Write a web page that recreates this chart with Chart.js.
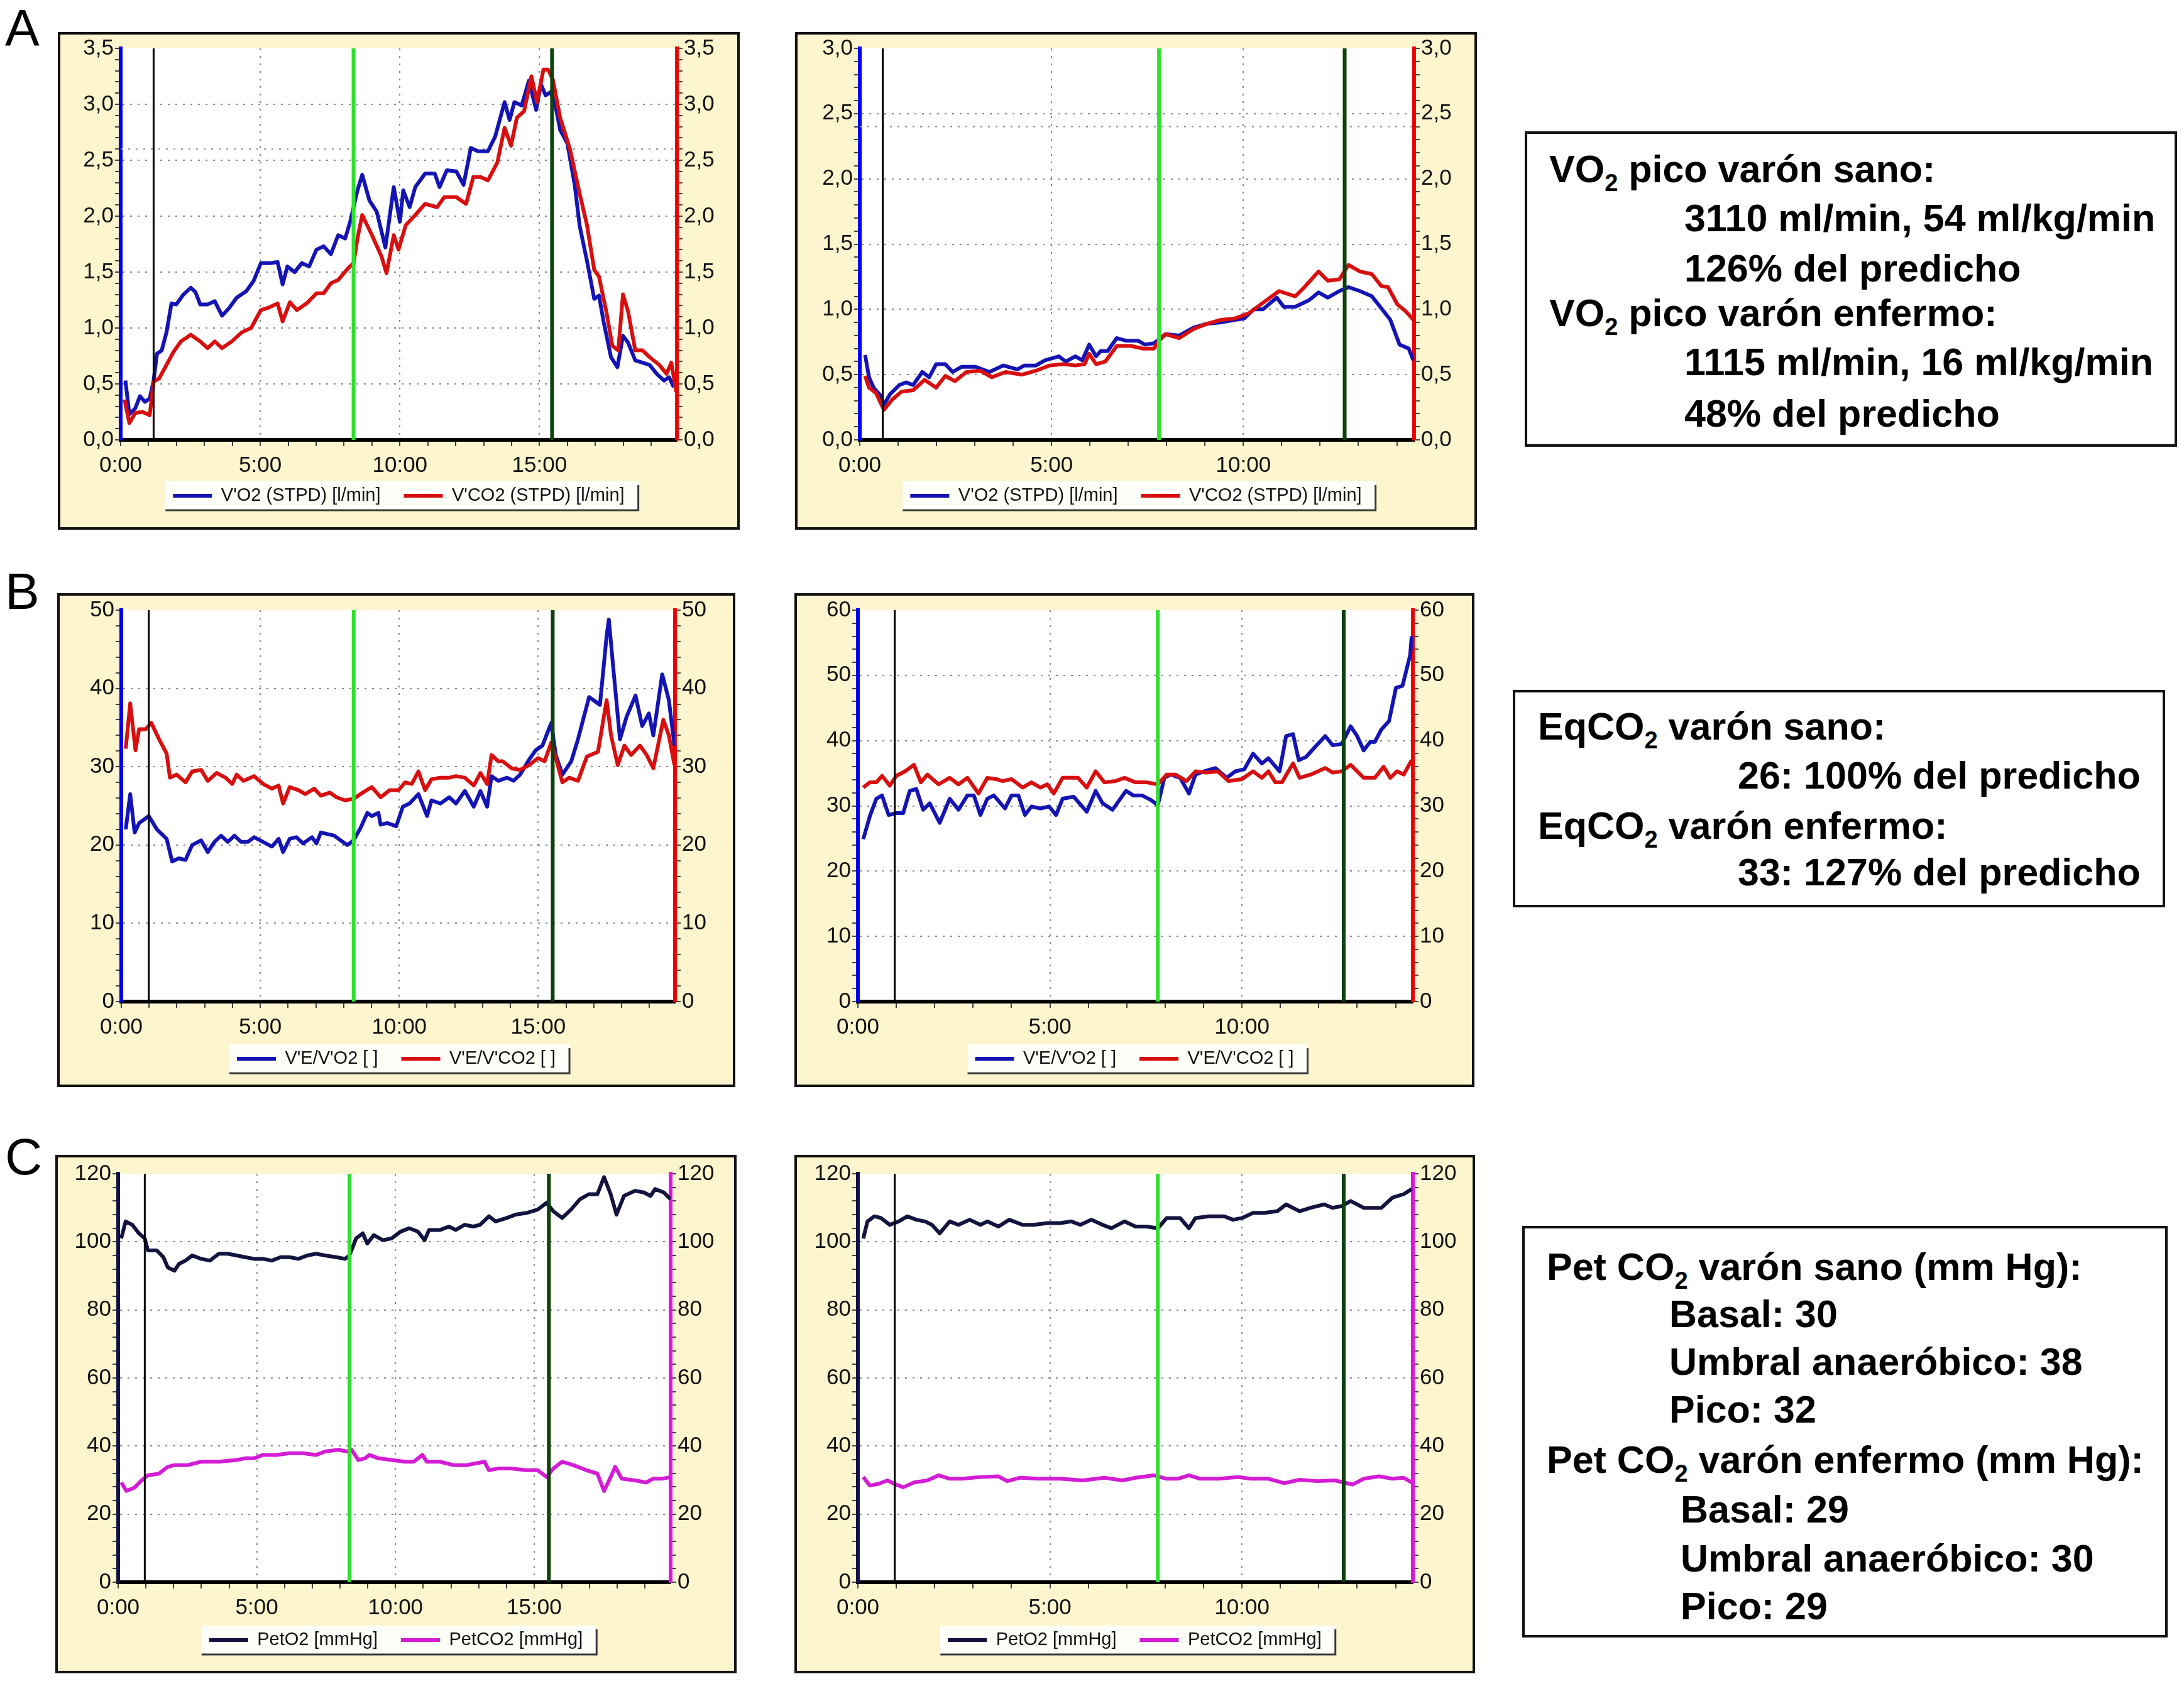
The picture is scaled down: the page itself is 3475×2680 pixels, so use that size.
<!DOCTYPE html>
<html>
<head>
<meta charset="utf-8">
<script src="https://cdn.jsdelivr.net/npm/chart.js@4.4.1/dist/chart.umd.min.js"></script>
<style>
html,body{margin:0;padding:0;background:#fff;}
#page{position:relative;width:3475px;height:2680px;overflow:hidden;background:#fff;font-family:'Liberation Sans',Arial,sans-serif;}
.letter{position:absolute;font-size:82px;line-height:82px;color:#000;}
.frame{position:absolute;box-sizing:border-box;border:4px solid #111;background:#fcf5cd;}
.frame canvas{position:absolute;left:0;top:0;}
.tbox{position:absolute;box-sizing:border-box;border:4px solid #111;background:#fff;}
.tl{position:absolute;white-space:nowrap;font-weight:bold;font-size:61px;line-height:76px;color:#000;}
.tl sub{font-size:38px;vertical-align:-14px;line-height:0;}
</style>
</head>
<body>
<div id="page">
  <div class="letter" style="left:8px;top:3px;">A</div>
  <div class="letter" style="left:8px;top:900px;">B</div>
  <div class="letter" style="left:8px;top:1800px;">C</div>

  <div class="tbox" style="left:2426px;top:209px;width:1038px;height:502px;"></div>
  <div class="tl" style="left:2465px;top:231px;">VO<sub>2</sub> pico varón sano:</div>
  <div class="tl" style="left:2680px;top:309px;">3110 ml/min, 54 ml/kg/min</div>
  <div class="tl" style="left:2680px;top:389px;">126% del predicho</div>
  <div class="tl" style="left:2465px;top:460px;">VO<sub>2</sub> pico varón enfermo:</div>
  <div class="tl" style="left:2680px;top:538px;">1115 ml/min, 16 ml/kg/min</div>
  <div class="tl" style="left:2680px;top:620px;">48% del predicho</div>

  <div class="tbox" style="left:2407px;top:1098px;width:1038px;height:346px;"></div>
  <div class="tl" style="left:2447px;top:1118px;">EqCO<sub>2</sub> varón sano:</div>
  <div class="tl" style="left:2765px;top:1196px;">26: 100% del predicho</div>
  <div class="tl" style="left:2447px;top:1276px;">EqCO<sub>2</sub> varón enfermo:</div>
  <div class="tl" style="left:2765px;top:1350px;">33: 127% del predicho</div>

  <div class="tbox" style="left:2422px;top:1951px;width:1027px;height:655px;"></div>
  <div class="tl" style="left:2461px;top:1978px;">Pet CO<sub>2</sub> varón sano (mm Hg):</div>
  <div class="tl" style="left:2656px;top:2053px;">Basal: 30</div>
  <div class="tl" style="left:2656px;top:2129px;">Umbral anaeróbico: 38</div>
  <div class="tl" style="left:2656px;top:2205px;">Pico: 32</div>
  <div class="tl" style="left:2461px;top:2285px;">Pet CO<sub>2</sub> varón enfermo (mm Hg):</div>
  <div class="tl" style="left:2674px;top:2364px;">Basal: 29</div>
  <div class="tl" style="left:2674px;top:2442px;">Umbral anaeróbico: 30</div>
  <div class="tl" style="left:2674px;top:2518px;">Pico: 29</div>
</div>
<script>
// ===================== DATA =====================
// Time in minutes; values as plotted.
// Panel A – sano (healthy)
const tVO2_sano = [0.17,0.31,0.52,0.69,0.87,1.04,1.18,1.30,1.47,1.64,1.82,1.99,2.25,2.51,2.68,2.85,3.11,3.37,3.63,3.89,4.15,4.50,4.76,5.02,5.36,5.62,5.80,5.97,6.23,6.49,6.75,7.01,7.27,7.53,7.79,8.04,8.22,8.48,8.65,8.91,9.17,9.48,9.78,10.00,10.12,10.35,10.55,10.90,11.25,11.42,11.68,12.02,12.28,12.54,12.80,13.15,13.41,13.75,13.93,14.10,14.36,14.62,14.88,15.05,15.22,15.40,15.57,15.74,16.00,16.26,16.44,16.70,16.96,17.13,17.30,17.56,17.79,17.99,18.17,18.43,18.69,18.94,19.20,19.46,19.64,19.81];
const VO2_sano = [0.53,0.23,0.28,0.39,0.34,0.37,0.53,0.77,0.80,0.96,1.22,1.21,1.30,1.36,1.32,1.21,1.21,1.24,1.11,1.18,1.27,1.33,1.42,1.58,1.58,1.59,1.39,1.55,1.50,1.58,1.55,1.70,1.73,1.66,1.83,1.80,1.95,2.23,2.37,2.14,2.04,1.72,2.26,1.95,2.23,2.08,2.26,2.38,2.38,2.26,2.41,2.40,2.28,2.61,2.58,2.58,2.71,3.02,2.86,3.02,2.99,3.21,2.95,3.18,3.08,3.11,2.99,2.77,2.65,2.28,1.91,1.60,1.26,1.29,1.05,0.74,0.65,0.93,0.87,0.71,0.69,0.67,0.59,0.53,0.56,0.47];
const tVCO2_sano = [0.14,0.31,0.52,0.78,1.04,1.18,1.38,1.64,1.90,2.16,2.51,2.85,3.11,3.37,3.63,3.98,4.33,4.67,5.02,5.28,5.62,5.80,6.06,6.31,6.66,7.01,7.27,7.53,7.79,8.13,8.34,8.48,8.65,9.00,9.34,9.52,9.78,9.95,10.21,10.55,10.90,11.33,11.59,12.02,12.37,12.63,12.89,13.15,13.49,13.75,13.98,14.19,14.45,14.71,14.91,15.14,15.31,15.48,15.74,16.09,16.44,16.70,16.96,17.13,17.39,17.61,17.82,17.99,18.17,18.43,18.69,18.94,19.29,19.55,19.72,19.90];
const VCO2_sano = [0.36,0.15,0.24,0.25,0.22,0.52,0.55,0.67,0.79,0.88,0.94,0.88,0.82,0.88,0.82,0.88,0.96,1.00,1.16,1.18,1.22,1.06,1.23,1.16,1.22,1.31,1.31,1.40,1.43,1.53,1.58,1.80,2.01,1.83,1.64,1.49,1.83,1.70,1.92,2.01,2.11,2.08,2.17,2.17,2.11,2.35,2.35,2.32,2.48,2.79,2.63,2.88,2.94,3.25,3.02,3.31,3.31,3.22,2.88,2.60,2.20,1.92,1.52,1.46,1.15,0.84,0.80,1.30,1.15,0.80,0.80,0.74,0.67,0.59,0.69,0.43];
// Panel A – enfermo (patient)
const tVO2_enf = [0.14,0.24,0.36,0.54,0.63,0.79,1.03,1.21,1.39,1.63,1.81,1.99,2.23,2.42,2.66,3.02,3.38,3.74,4.11,4.29,4.59,4.83,5.19,5.37,5.62,5.80,5.98,6.16,6.28,6.46,6.70,6.94,7.25,7.43,7.67,7.80,7.97,8.33,8.70,9.06,9.42,9.78,10.02,10.27,10.51,10.87,11.05,11.35,11.71,11.96,12.20,12.50,12.74,13.04,13.35,13.59,13.83,14.07,14.31,14.43];
const VO2_enf = [0.65,0.48,0.40,0.34,0.27,0.35,0.42,0.44,0.42,0.52,0.48,0.58,0.58,0.52,0.56,0.56,0.52,0.57,0.54,0.57,0.57,0.61,0.64,0.60,0.64,0.61,0.73,0.64,0.68,0.68,0.78,0.76,0.76,0.73,0.74,0.77,0.81,0.80,0.86,0.89,0.90,0.92,0.93,1.00,1.00,1.09,1.02,1.02,1.07,1.13,1.09,1.14,1.17,1.14,1.10,1.01,0.92,0.73,0.70,0.61];
const tVCO2_enf = [0.14,0.24,0.42,0.63,0.85,1.09,1.39,1.69,1.99,2.23,2.48,2.78,3.14,3.44,3.80,4.23,4.59,4.95,5.31,5.62,5.86,5.98,6.16,6.40,6.70,7.07,7.37,7.67,7.80,7.97,8.33,8.70,9.06,9.42,9.78,10.14,10.51,10.93,11.35,11.59,11.96,12.20,12.50,12.74,13.04,13.35,13.59,13.77,14.01,14.25,14.43];
const VCO2_enf = [0.49,0.40,0.36,0.23,0.31,0.37,0.38,0.46,0.40,0.49,0.45,0.52,0.53,0.48,0.52,0.50,0.53,0.57,0.58,0.57,0.58,0.66,0.58,0.60,0.72,0.72,0.70,0.70,0.76,0.81,0.78,0.85,0.89,0.92,0.93,0.97,1.05,1.14,1.10,1.17,1.29,1.22,1.23,1.34,1.29,1.27,1.18,1.17,1.04,0.98,0.92];
// Panel B – sano
const tEqO2_sano = [0.16,0.32,0.48,0.64,0.99,1.28,1.63,1.83,2.07,2.31,2.55,2.87,3.11,3.35,3.59,3.83,4.07,4.31,4.55,4.78,5.10,5.42,5.66,5.82,6.06,6.30,6.54,6.86,7.02,7.18,7.42,7.66,7.89,8.13,8.36,8.61,8.85,9.01,9.25,9.33,9.57,9.89,10.13,10.37,10.69,11.00,11.16,11.48,11.80,12.04,12.36,12.68,12.92,13.16,13.32,13.56,13.88,14.11,14.35,14.67,14.91,15.15,15.47,15.63,15.87,16.19,16.43,16.83,17.22,17.46,17.54,17.70,17.94,18.18,18.50,18.74,18.98,19.14,19.46,19.70,19.90];
const EqO2_sano = [22.0,26.5,21.6,22.8,23.7,22.0,20.8,17.9,18.3,18.1,20.0,20.6,19.1,20.4,21.2,20.4,21.2,20.4,20.4,21.0,20.4,19.8,20.8,19.1,20.8,21.0,20.2,21.0,20.2,21.6,21.4,21.2,20.6,20.0,20.6,22.2,24.1,23.7,24.1,22.6,22.8,22.4,24.9,25.3,26.5,23.7,25.7,25.3,26.1,25.3,26.9,24.9,26.9,24.9,28.8,28.2,28.6,28.2,29.0,30.9,32.1,32.7,35.6,31.5,29.0,30.7,33.5,38.9,37.9,46.7,48.8,42.6,33.5,36.4,39.1,35.2,36.8,34.0,41.8,38.5,32.7];
const tEqCO2_sano = [0.16,0.32,0.51,0.64,0.88,1.08,1.36,1.63,1.75,1.99,2.31,2.55,2.87,3.11,3.43,3.75,3.99,4.15,4.39,4.78,5.10,5.42,5.66,5.82,6.06,6.38,6.62,6.94,7.18,7.50,7.74,8.05,8.36,8.69,9.01,9.33,9.65,9.97,10.21,10.45,10.69,10.93,11.16,11.48,11.80,12.04,12.36,12.68,12.92,13.16,13.32,13.56,13.72,14.04,14.35,14.67,14.99,15.23,15.47,15.63,15.87,16.11,16.43,16.75,17.15,17.46,17.62,17.86,18.10,18.34,18.66,18.90,19.14,19.50,19.70,19.90];
const EqCO2_sano = [32.3,38.1,32.1,34.8,34.8,35.6,33.5,31.7,28.6,29.0,28.0,29.4,29.6,28.2,29.2,28.6,27.8,29.0,28.2,28.8,27.8,27.2,27.6,25.3,27.4,27.0,26.5,27.2,26.3,26.7,26.1,25.7,25.9,26.7,27.4,26.1,27.0,27.0,28.0,27.8,29.4,27.0,28.4,28.6,28.6,28.8,28.6,27.6,29.2,27.8,31.5,30.7,30.7,29.8,29.6,30.2,31.1,30.7,33.1,31.1,28.0,28.6,28.2,31.3,31.9,38.5,34.0,30.2,32.7,31.5,32.7,31.5,29.8,36.0,34.0,30.2];
// Panel B – enfermo
const tEqO2_enf = [0.14,0.31,0.48,0.63,0.80,1.00,1.18,1.35,1.52,1.70,1.87,2.13,2.39,2.62,2.85,3.02,3.19,3.37,3.54,3.83,4.00,4.18,4.35,4.52,4.75,4.98,5.16,5.33,5.62,5.96,6.19,6.37,6.63,6.98,7.17,7.40,7.63,7.81,7.98,8.15,8.39,8.62,8.79,9.02,9.31,9.60,9.83,10.06,10.29,10.52,10.69,10.98,11.15,11.33,11.48,11.67,11.90,12.17,12.36,12.60,12.83,13.00,13.17,13.34,13.46,13.63,13.83,14.01,14.18,14.38,14.42];
const EqO2_enf = [24.9,28.4,31.1,31.6,28.6,28.9,28.9,32.3,32.6,29.4,30.4,27.4,31.1,29.4,31.6,31.6,28.6,31.1,31.6,29.6,31.6,31.6,28.6,29.9,29.6,29.9,28.6,31.1,31.4,29.1,32.3,30.4,29.4,32.3,31.6,31.6,30.9,30.1,34.3,34.8,34.3,31.9,34.8,35.3,35.8,34.3,35.3,35.6,38.0,36.5,37.3,35.3,40.7,41.0,37.0,37.5,39.0,40.7,39.3,39.5,42.2,40.7,38.5,39.8,39.8,41.7,43.0,48.1,48.4,53.1,56.0];
const tEqCO2_enf = [0.14,0.31,0.48,0.63,0.83,1.00,1.23,1.46,1.64,1.81,2.10,2.39,2.62,2.85,3.14,3.37,3.60,3.77,4.00,4.29,4.52,4.75,4.93,5.10,5.33,5.73,5.96,6.19,6.42,6.71,6.94,7.23,7.52,7.81,8.04,8.27,8.56,8.79,9.08,9.37,9.65,10.00,10.29,10.52,10.69,10.87,11.04,11.33,11.50,11.79,12.17,12.36,12.60,12.83,13.17,13.46,13.69,13.86,14.04,14.21,14.42];
const EqCO2_enf = [32.8,33.6,33.6,34.6,33.1,34.6,35.3,36.3,33.6,34.8,33.3,34.3,33.3,34.3,31.9,34.3,34.1,33.8,34.1,32.8,33.6,32.8,33.3,31.9,34.3,34.3,32.8,35.3,33.6,33.8,34.3,33.6,33.6,33.3,34.8,34.8,33.8,35.3,35.1,35.3,33.8,34.1,35.3,34.3,35.3,33.6,33.6,36.5,34.3,34.8,35.8,35.1,35.3,36.3,34.3,34.3,36.0,34.3,35.3,34.8,37.0];
// Panel C – sano
const tPetO2_sano = [0.11,0.27,0.51,0.75,0.96,1.07,1.39,1.63,1.79,2.03,2.19,2.43,2.67,2.99,3.31,3.63,3.95,4.27,4.58,4.90,5.22,5.54,5.86,6.18,6.50,6.82,7.14,7.46,7.86,8.18,8.34,8.58,8.82,8.98,9.22,9.54,9.86,10.18,10.50,10.81,11.05,11.21,11.61,11.93,12.17,12.49,12.81,13.05,13.37,13.61,14.01,14.33,14.73,15.13,15.45,15.69,16.01,16.33,16.65,16.97,17.28,17.52,17.76,17.97,18.24,18.64,18.96,19.20,19.36,19.68,19.92];
const PetO2_sano = [101,106,105,102.5,101,97.5,97.5,95.5,92.5,91.5,93.5,94.5,96,95,94.5,96.5,96.5,96,95.5,95,95,94.5,95.5,95.5,95,96,96.5,96,95.5,95,96,101,102.5,99.5,102,100.5,101,103,104,103,100.5,103.5,103.5,104.5,103.5,105,104.5,105,107.5,106,107,108,108.5,109.5,111.5,109,107,109.5,112.5,114,114,119,114,108,113.5,115,114.5,113.5,115.5,114.5,112.5];
const tPetCO2_sano = [0.11,0.30,0.59,0.83,1.07,1.47,1.79,2.03,2.51,2.99,3.63,4.27,4.58,4.90,5.22,5.70,6.18,6.66,7.14,7.46,7.94,8.26,8.42,8.66,8.90,9.06,9.38,9.86,10.34,10.66,10.97,11.13,11.61,12.09,12.57,13.21,13.37,13.69,14.17,14.73,15.13,15.45,15.69,16.01,16.41,16.89,17.28,17.52,17.76,17.92,18.16,18.64,19.04,19.28,19.60,19.92];
const PetCO2_sano = [29.3,26.8,27.8,29.8,31.4,31.9,33.9,34.4,34.4,35.4,35.4,35.9,36.4,36.4,37.4,37.4,37.9,37.9,37.4,38.4,38.9,38.4,38.9,35.9,36.4,37.4,36.4,35.9,35.4,35.4,37.4,35.4,35.4,34.4,34.4,35.4,32.9,33.4,33.4,32.9,32.9,30.9,33.4,35.4,34.4,32.9,31.9,26.8,30.9,33.9,30.4,29.9,29.3,30.4,30.4,30.9];
// Panel C – enfermo
const tPetO2_enf = [0.14,0.25,0.43,0.60,0.83,1.06,1.29,1.52,1.75,1.93,2.13,2.39,2.62,2.91,3.19,3.37,3.66,3.94,4.29,4.58,4.93,5.27,5.56,5.79,6.08,6.37,6.60,6.94,7.23,7.52,7.81,8.04,8.39,8.62,8.79,9.13,9.54,9.77,10.00,10.29,10.58,10.92,11.15,11.50,11.79,12.14,12.36,12.60,12.83,13.17,13.63,13.92,14.21,14.42];
const PetO2_enf = [101,106,107.5,107,105,106,107.5,106.5,106,105,102.5,106,105,106.5,105,106,104.5,106.5,105,105,105.5,105.5,106,105,106.5,105,104,106,104.5,104.5,104,107,107,104,107,107.5,107.5,106.5,107,108.5,108.5,109,111,109,110,111,110,110.5,112,110,110,113,114,115.5];
const tPetCO2_enf = [0.14,0.31,0.54,0.77,0.95,1.18,1.46,1.81,2.10,2.39,2.73,3.19,3.66,3.89,4.23,4.69,5.27,5.85,6.42,6.89,7.23,7.70,8.04,8.33,8.62,8.91,9.42,9.89,10.23,10.69,11.10,11.50,11.96,12.42,12.65,12.88,13.17,13.57,13.92,14.21,14.42];
const PetCO2_enf = [30.9,28.4,28.9,29.9,28.9,27.9,29.3,29.9,31.4,30.4,30.4,30.9,31.1,29.7,30.7,30.4,30.4,29.9,30.7,29.9,30.7,31.4,30.4,30.4,31.4,30.4,30.4,30.9,30.4,30.4,29.1,30.1,29.7,29.9,29.3,28.7,30.4,31.1,30.4,30.7,29.3];
// Event markers (min): start of exercise, anaerobic threshold, peak
const mA_sano = [1.18, 8.34, 15.45];
const mA_enf  = [0.60, 7.80, 12.64];
const mB_sano = [0.99, 8.36, 15.52];
const mB_enf  = [0.96, 7.81, 12.65];
const mC_sano = [0.96, 8.34, 15.53];
const mC_enf  = [0.96, 7.81, 12.65];
// Predicted-value reference lines (panel A)
const predA_sano = [2.6];
const predA_enf  = [2.4];
// Axis ranges
const xMax_sano = 19.92, xMax_enf = 14.45;
const yMaxA_sano = 3.5, yMaxA_enf = 3.0, yStepA = 0.5;
const yMaxB_sano = 50, yMaxB_enf = 60, yStepB = 10;
const yMaxC = 120, yStepC = 20;
const xMajorStep = 5;
const legendA = ["V'O2 (STPD) [l/min]", "V'CO2 (STPD) [l/min]"];
const legendB = ["V'E/V'O2 [ ]", "V'E/V'CO2 [ ]"];
const legendC = ["PetO2 [mmHg]", "PetCO2 [mmHg]"];

// ===================== STYLE =====================
const TICK_FONT = "'Liberation Sans',Arial,sans-serif";
const TICK_SIZE = 35;
const BLUE = '#1414b4', RED = '#d80f0f', NAVY = '#13133f', MAGENTA = '#d41cd4';
const AX_BLUE = '#0000f0', AX_RED = '#ee0000', AX_NAVY = '#10104a', AX_MAG = '#e014e0';
const MARKER_COLORS = ['#000000', '#2fe02f', '#0b430b'];
const MARKER_WIDTHS = [3, 6, 6];
const GRID = '#8a8a8a';
const LEG_FONT = 29, LEG_PAD = 8;

function zip(t, v) { const n = Math.min(t.length, v.length); const o = []; for (let i = 0; i < n; i++) o.push({x: t[i], y: v[i]}); return o; }
function isMajor(v, step) { const r = v / step; return Math.abs(r - Math.round(r)) < 1e-6; }
const fmtComma = v => v.toFixed(1).replace('.', ',');
const fmtInt = v => String(Math.round(v));

const bgPlugin = {
  id: 'bgPlot',
  beforeDraw(chart) {
    const {ctx, chartArea: a} = chart;
    ctx.save();
    ctx.fillStyle = '#ffffff';
    ctx.fillRect(a.left, a.top, a.right - a.left, a.bottom - a.top);
    const lg = chart.legend;
    if (lg && lg.legendHitBoxes && lg.legendHitBoxes.length) {
      const hb = lg.legendHitBoxes;
      const l = Math.min(...hb.map(h => h.left)) - 12;
      const r = Math.max(...hb.map(h => h.left + h.width)) + 22;
      const cy = hb[0].top + hb[0].height / 2;
      const t = cy - 23, b = cy + 23;
      ctx.fillStyle = '#fffffa';
      ctx.fillRect(l, t, r - l, b - t);
      ctx.strokeStyle = '#3a3a3a'; ctx.lineWidth = 3;
      ctx.beginPath(); ctx.moveTo(l, b); ctx.lineTo(r, b); ctx.lineTo(r, t + 6); ctx.stroke();
    }
    ctx.restore();
  }
};

function yAxis(pos, max, step, color, fmt, width, onArea) {
  return {
    type: 'linear', position: pos, min: 0, max: max,
    afterFit(s) { s.width = width; s.paddingTop = 0; s.paddingBottom = 0; },
    ticks: {
      stepSize: step / 5, autoSkip: false, includeBounds: false, padding: 2, color: '#111',
      font: {family: TICK_FONT, size: TICK_SIZE},
      callback: v => isMajor(v, step) ? fmt(v) : ''
    },
    grid: {
      drawOnChartArea: onArea,
      color: c => (c.tick && isMajor(c.tick.value, step) && c.tick.value > 0 && c.tick.value < max) ? GRID : 'rgba(0,0,0,0)',
      lineWidth: 2, tickLength: 9, tickWidth: 2, tickColor: '#444', tickBorderDash: []
    },
    border: {display: true, color: color, width: 6, dash: [3, 9]}
  };
}

function panel(p) {
  const page = document.getElementById('page');
  const [fl, ft, fr, fb] = p.frame;
  const [pl, pt, pr, pb] = p.plot;
  const B = 4;
  const div = document.createElement('div');
  div.className = 'frame';
  div.style.left = fl + 'px'; div.style.top = ft + 'px';
  div.style.width = (fr - fl) + 'px'; div.style.height = (fb - ft) + 'px';
  const cw = fr - fl - 2 * B, ch = fb - ft - 2 * B;
  const canvas = document.createElement('canvas');
  canvas.width = cw; canvas.height = ch;
  canvas.style.width = cw + 'px'; canvas.style.height = ch + 'px';
  div.appendChild(canvas);
  page.appendChild(div);
  const ox = fl + B, oy = ft + B;
  const leftW = pl - ox, rightW = (ox + cw) - pr, topPad = pt - oy;
  const legendH = LEG_FONT + LEG_PAD + 10;
  const legendTop = p.legendY - (LEG_PAD + LEG_FONT / 2);
  const bottomPad = (oy + ch) - (legendTop + legendH);
  const xAxisH = legendTop - pb;

  const datasets = [];
  p.markers.forEach((m, i) => datasets.push({
    label: '_m' + i, data: [{x: m, y: 0}, {x: m, y: p.ymax}],
    borderColor: MARKER_COLORS[i], backgroundColor: MARKER_COLORS[i], borderWidth: MARKER_WIDTHS[i],
    pointRadius: 0, yAxisID: 'y'
  }));
  const series = p.series.slice().reverse(); // second series drawn above the first
  series.forEach(s => datasets.push({
    label: s.label, data: zip(s.t, s.v), borderColor: s.color, backgroundColor: s.color,
    borderWidth: 6, pointRadius: 0, tension: 0, yAxisID: 'y', borderJoinStyle: 'round'
  }));
  (p.preds || []).forEach((v, i) => datasets.push({
    label: '_p' + i, data: [{x: 0, y: v}, {x: p.xmax, y: v}],
    borderColor: GRID, borderWidth: 2, borderDash: [3, 9], pointRadius: 0, yAxisID: 'y'
  }));

  new Chart(canvas, {
    type: 'line',
    data: {datasets},
    options: {
      responsive: false, animation: false, devicePixelRatio: 1,
      layout: {padding: {top: topPad, bottom: bottomPad, left: 0, right: 0}},
      plugins: {
        tooltip: {enabled: false},
        legend: {
          position: 'bottom',
          labels: {
            font: {family: TICK_FONT, size: LEG_FONT}, color: '#111',
            boxWidth: 62, boxHeight: 6, padding: LEG_PAD,
            generateLabels: chart => p.series.map((s, i) => {
              const idx = chart.data.datasets.findIndex(d => d.label === s.label);
              const gap = i < p.series.length - 1 ? '\u2003' : '';
              return {text: s.label + gap, fillStyle: s.color, strokeStyle: s.color, lineWidth: 0,
                      hidden: false, datasetIndex: idx, fontColor: '#111'};
            })
          }
        }
      },
      scales: {
        x: {
          type: 'linear', min: 0, max: p.xmax,
          afterFit(s) { s.height = xAxisH; s.paddingLeft = 0; s.paddingRight = 0; },
          ticks: {
            stepSize: 1, autoSkip: false, includeBounds: false, maxRotation: 0, minRotation: 0,
            padding: 10, color: '#111', font: {family: TICK_FONT, size: TICK_SIZE},
            callback: v => (Math.abs(v % xMajorStep) < 1e-6) ? (Math.round(v) + ':00') : ''
          },
          grid: {
            color: c => (c.tick && Math.abs(c.tick.value % xMajorStep) < 1e-6 && c.tick.value > 0) ? GRID : 'rgba(0,0,0,0)',
            lineWidth: 2, tickLength: 10, tickWidth: 2, tickColor: '#444', tickBorderDash: []
          },
          border: {display: true, color: '#000', width: 6, dash: [3, 9]}
        },
        y: yAxis('left', p.ymax, p.ystep, p.axL, p.fmt, leftW, true),
        y2: yAxis('right', p.ymax, p.ystep, p.axR, p.fmt, rightW, false)
      }
    },
    plugins: [bgPlugin]
  });
}

const panels = [
  {frame: [92, 51, 1177, 843], plot: [192, 77, 1077, 700], legendY: 789, xmax: xMax_sano, ymax: yMaxA_sano, ystep: yStepA, fmt: fmtComma, axL: AX_BLUE, axR: AX_RED,
   series: [{label: legendA[0], t: tVO2_sano, v: VO2_sano, color: BLUE}, {label: legendA[1], t: tVCO2_sano, v: VCO2_sano, color: RED}], markers: mA_sano, preds: predA_sano},
  {frame: [1265, 51, 2350, 843], plot: [1368, 77, 2250, 700], legendY: 789, xmax: xMax_enf, ymax: yMaxA_enf, ystep: yStepA, fmt: fmtComma, axL: AX_BLUE, axR: AX_RED,
   series: [{label: legendA[0], t: tVO2_enf, v: VO2_enf, color: BLUE}, {label: legendA[1], t: tVCO2_enf, v: VCO2_enf, color: RED}], markers: mA_enf, preds: predA_enf},
  {frame: [91, 944, 1170, 1730], plot: [193, 971, 1074, 1594], legendY: 1685, xmax: xMax_sano, ymax: yMaxB_sano, ystep: yStepB, fmt: fmtInt, axL: AX_BLUE, axR: AX_RED,
   series: [{label: legendB[0], t: tEqO2_sano, v: EqO2_sano, color: BLUE}, {label: legendB[1], t: tEqCO2_sano, v: EqCO2_sano, color: RED}], markers: mB_sano},
  {frame: [1264, 944, 2346, 1730], plot: [1365, 971, 2248, 1594], legendY: 1685, xmax: xMax_enf, ymax: yMaxB_enf, ystep: yStepB, fmt: fmtInt, axL: AX_BLUE, axR: AX_RED,
   series: [{label: legendB[0], t: tEqO2_enf, v: EqO2_enf, color: BLUE}, {label: legendB[1], t: tEqCO2_enf, v: EqCO2_enf, color: RED}], markers: mB_enf},
  {frame: [88, 1838, 1172, 2663], plot: [188, 1868, 1067, 2518], legendY: 2610, xmax: xMax_sano, ymax: yMaxC, ystep: yStepC, fmt: fmtInt, axL: AX_NAVY, axR: AX_MAG,
   series: [{label: legendC[0], t: tPetO2_sano, v: PetO2_sano, color: NAVY}, {label: legendC[1], t: tPetCO2_sano, v: PetCO2_sano, color: MAGENTA}], markers: mC_sano},
  {frame: [1264, 1838, 2347, 2663], plot: [1365, 1868, 2248, 2518], legendY: 2610, xmax: xMax_enf, ymax: yMaxC, ystep: yStepC, fmt: fmtInt, axL: AX_NAVY, axR: AX_MAG,
   series: [{label: legendC[0], t: tPetO2_enf, v: PetO2_enf, color: NAVY}, {label: legendC[1], t: tPetCO2_enf, v: PetCO2_enf, color: MAGENTA}], markers: mC_enf}
];
panels.forEach(panel);
</script>
</body>
</html>
